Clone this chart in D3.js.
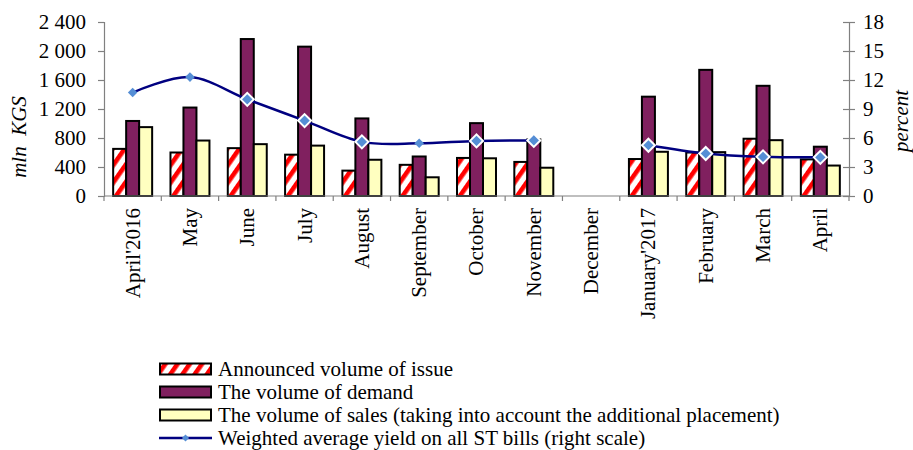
<!DOCTYPE html>
<html>
<head>
<meta charset="utf-8">
<script src="https://cdn.jsdelivr.net/npm/d3@7"></script>
<style>
  html, body { margin: 0; padding: 0; background: #fff; }
  svg { display: block; font-family: "Liberation Serif", "Times New Roman", serif; }
</style>
</head>
<body>
<svg id="chart" width="913" height="450"></svg>
<script>
// Monthly ST-bill auctions, April 2016 – April 2017 (December: no auction)
const months = ["April'2016", "May", "June", "July", "August", "September", "October",
                "November", "December", "January'2017", "February", "March", "April"];
const announced = [650, 600, 660, 570, 350, 430, 525, 470, null, 510, 600, 790, 505];
const demand    = [1035, 1220, 2165, 2060, 1070, 545, 1005, 780, null, 1370, 1740, 1520, 680];
const sales     = [950, 765, 715, 695, 500, 258, 520, 390, null, 610, 605, 770, 420];
const yieldPct  = [10.7, 12.3, 10.0, 7.8, 5.6, 5.45, 5.7, 5.75, null, 5.25, 4.4, 4.05, 4.0];

const leftTicks  = [0, 400, 800, 1200, 1600, 2000, 2400];
const rightTicks = [0, 3, 6, 9, 12, 15, 18];
const seriesKeys = ["announced", "demand", "sales"];
const legendLabels = [
  "Announced volume of issue",
  "The volume of demand",
  "The volume of sales (taking into account the additional placement)",
  "Weighted average yield on all ST bills (right scale)"
];
// months whose yield marker is drawn with a white rim
const rimmedMarkers = new Set(["June", "July", "August", "October", "November",
                               "January'2017", "February", "March", "April"]);

const svg = d3.select("#chart");
const plot = { left: 104, right: 849, top: 22, bottom: 196 };
const fontSize = 21;

const x = d3.scaleBand().domain(months).range([plot.left, plot.right]).padding(0);
const xSub = d3.scaleBand().domain(seriesKeys).range([0, x.bandwidth()])
  .paddingInner(0).paddingOuter(0.705);
const yL = d3.scaleLinear().domain([0, 2400]).range([plot.bottom, plot.top]);
const yR = d3.scaleLinear().domain([0, 18]).range([plot.bottom, plot.top]);

const fmt = d3.formatLocale({ decimal: ".", thousands: " ", grouping: [3], currency: ["", ""] }).format(",");

// stripe fill for the announced volume
const defs = svg.append("defs");
const pat = defs.append("pattern")
  .attr("id", "stripes")
  .attr("patternUnits", "userSpaceOnUse")
  .attr("width", 10).attr("height", 10)
  .attr("patternTransform", "rotate(35)");
pat.append("rect").attr("width", 10).attr("height", 10).attr("fill", "#fff");
pat.append("rect").attr("width", 4.6).attr("height", 10).attr("fill", "#ff0000");

const fills = { announced: "url(#stripes)", demand: "#80205f", sales: "#ffffc0" };
const values = { announced, demand, sales };

// bars
const rows = months.map((m, i) => ({ month: m, i }));
const groups = svg.append("g").selectAll("g").data(rows).join("g")
  .attr("transform", d => `translate(${x(d.month)},0)`);
groups.selectAll("rect")
  .data(d => seriesKeys.map(k => ({ key: k, v: values[k][d.i] })).filter(e => e.v != null))
  .join("rect")
  .attr("x", e => xSub(e.key))
  .attr("width", xSub.bandwidth())
  .attr("y", e => yL(e.v))
  .attr("height", e => yL(0) - yL(e.v))
  .attr("fill", e => fills[e.key])
  .attr("stroke", "#000")
  .attr("stroke-width", 2);

// axes
const axisColor = "#808080";
const gL = svg.append("g").attr("transform", `translate(${plot.left},0)`)
  .call(d3.axisLeft(yL).tickValues(leftTicks).tickSize(6).tickPadding(12).tickFormat(fmt));
const gR = svg.append("g").attr("transform", `translate(${plot.right},0)`)
  .call(d3.axisRight(yR).tickValues(rightTicks).tickSize(6).tickPadding(8));
gR.selectAll(".tick line").attr("x1", -6);
const gB = svg.append("g").attr("transform", `translate(0,${plot.bottom})`)
  .call(d3.axisBottom(x).tickSize(0).tickFormat(d => d));

[gL, gR, gB].forEach(g => {
  g.select(".domain").attr("stroke", axisColor).attr("stroke-width", 1.2);
  g.selectAll(".tick line").attr("stroke", axisColor).attr("stroke-width", 1.2);
  g.selectAll("text").attr("font-family", "Liberation Serif, Times New Roman, serif")
    .attr("font-size", fontSize).attr("fill", "#000");
});
gB.select(".domain").attr("d", `M${plot.left},0H${plot.right}`);
gB.selectAll(".tick text")
  .attr("transform", "rotate(-90)")
  .attr("text-anchor", "end")
  .attr("x", -12).attr("y", 0).attr("dy", "0.33em");

// category boundary ticks under the axis
svg.append("g").selectAll("line")
  .data(d3.range(months.length + 1))
  .join("line")
  .attr("x1", i => plot.left + i * x.step())
  .attr("x2", i => plot.left + i * x.step())
  .attr("y1", plot.bottom).attr("y2", plot.bottom + 5)
  .attr("stroke", axisColor).attr("stroke-width", 1.2);

// axis titles
svg.append("text")
  .attr("transform", "translate(26,137) rotate(-90)")
  .attr("text-anchor", "middle")
  .attr("font-size", fontSize).attr("font-style", "italic")
  .text("mln\u00a0 KGS");
svg.append("text")
  .attr("transform", "translate(913,121) rotate(-90)")
  .attr("text-anchor", "middle")
  .attr("dy", "-0.25em")
  .attr("font-size", fontSize).attr("font-style", "italic")
  .text("percent");

// yield line (right scale), broken where there was no auction
const pts = months.map((m, i) => ({ month: m, v: yieldPct[i] }));
const line = d3.line()
  .defined(d => d.v != null)
  .x(d => x(d.month) + x.bandwidth() / 2)
  .y(d => yR(d.v))
  .curve(d3.curveCatmullRom.alpha(0));
svg.append("path").datum(pts)
  .attr("d", line)
  .attr("fill", "none")
  .attr("stroke", "#000080")
  .attr("stroke-width", 2.5);

const diamond = r => `M0,${-r}L${r},0L0,${r}L${-r},0Z`;
svg.append("g").selectAll("path")
  .data(pts.filter(d => d.v != null))
  .join("path")
  .attr("transform", d => `translate(${x(d.month) + x.bandwidth() / 2},${yR(d.v)})`)
  .attr("d", d => diamond(rimmedMarkers.has(d.month) ? 6.5 : 4.8))
  .attr("fill", "#558ed5")
  .attr("stroke", d => rimmedMarkers.has(d.month) ? "#fff" : "none")
  .attr("stroke-width", 2);

// legend
const legend = svg.append("g").attr("transform", "translate(159,369)");
const rowH = 23;
const swatchFills = [fills.announced, fills.demand, fills.sales];
legendLabels.forEach((label, i) => {
  const g = legend.append("g").attr("transform", `translate(0,${i * rowH})`);
  if (i < 3) {
    g.append("rect").attr("x", 1).attr("y", -5.5).attr("width", 51).attr("height", 11)
      .attr("fill", swatchFills[i]).attr("stroke", "#000").attr("stroke-width", 2);
  } else {
    g.append("line").attr("x1", 0).attr("x2", 53).attr("y1", 0).attr("y2", 0)
      .attr("stroke", "#000080").attr("stroke-width", 2.5);
    g.append("path").attr("transform", "translate(26.5,0)").attr("d", diamond(3.6))
      .attr("fill", "#558ed5");
  }
  g.append("text").attr("x", 59).attr("y", 0).attr("dy", "0.33em")
    .attr("font-size", fontSize).text(label);
});
</script>
</body>
</html>
